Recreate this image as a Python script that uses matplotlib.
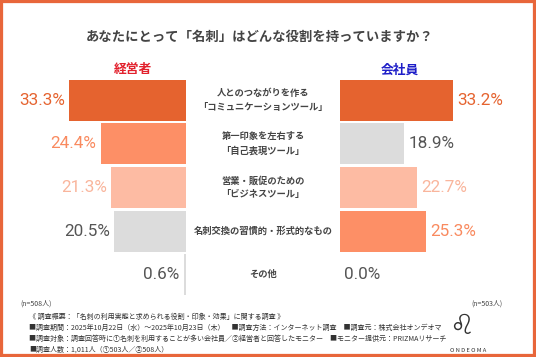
import matplotlib.pyplot as plt
from matplotlib.patches import Rectangle

plt.rcParams['font.family'] = ['Noto Sans CJK JP', 'DejaVu Sans']

categories = ['人とのつながりを作る\n「コミュニケーションツール」',
              '第一印象を左右する\n「自己表現ツール」',
              '営業・販促のための\n「ビジネスツール」',
              '名刺交換の習慣的・形式的なもの',
              'その他']
keieisha = [33.3, 24.4, 21.3, 20.5, 0.6]
kaishain = [33.2, 18.9, 22.7, 25.3, 0.0]
n_keieisha = 508
n_kaishain = 503

DARK = '#E5632F'
MID = '#FD8F66'
LIGHT = '#FDBBA3'
GRAY = '#DCDCDC'
TXT_GRAY = '#555555'
label_col = {DARK: '#E5632F', MID: '#F98A5F', LIGHT: '#F9B59C', GRAY: TXT_GRAY}

left_colors = [DARK, MID, LIGHT, GRAY, GRAY]
right_colors = [DARK, GRAY, LIGHT, MID, GRAY]

W, H = 536, 357
fig = plt.figure(figsize=(W / 100, H / 100), dpi=100)

def px_ax(x0, x1, y0, y1):
    return fig.add_axes([x0 / W, 1 - y1 / H, (x1 - x0) / W, (y1 - y0) / H])

y_top, y_bot = 78.5, 296.5
axl = px_ax(30, 186, y_top, y_bot)
axr = px_ax(340, 500, y_top, y_bot)
y = list(range(len(categories)))
valfont = dict(family=['Roboto', 'DejaVu Sans'], fontsize=12.3)

axl.barh(y, keieisha, height=0.94, color=left_colors, linewidth=0)
axl.set_xlim(156 / 3.5, 0)
for i, v in enumerate(keieisha):
    axl.text(v + 1.3, i, f'{v:.1f}%', ha='right', va='center',
             color=label_col[left_colors[i]], **valfont)

axr.barh(y, kaishain, height=0.94, color=right_colors, linewidth=0)
axr.set_xlim(0, 160 / 3.4)
for i, v in enumerate(kaishain):
    axr.text(v + 1.2, i, f'{v:.1f}%', ha='left', va='center',
             color=label_col[right_colors[i]], **valfont)

for ax in (axl, axr):
    ax.set_ylim(4.5, -0.5)
    ax.axis('off')

# center labels
for i, c in enumerate(categories):
    yy = y_top + (i + 0.5) * (y_bot - y_top) / 5
    fig.text(263 / W, 1 - yy / H, c, ha='center', va='center', fontsize=6.7,
             color='#444444', fontweight='bold', linespacing=1.6)

fig.text(260 / W, 1 - 37 / H, 'あなたにとって「名刺」はどんな役割を持っていますか？',
         ha='center', va='center', fontsize=9.6, fontweight='bold', color='#444444')
fig.text(133 / W, 1 - 70 / H, '経営者', ha='center', va='center', fontsize=9.2,
         fontweight='bold', color='#E2202C')
fig.text(400 / W, 1 - 70 / H, '会社員', ha='center', va='center', fontsize=9.2,
         fontweight='bold', color='#1E1EC8')

fig.text(20 / W, 1 - 304 / H, f'(n={n_keieisha}人)', ha='left', va='center',
         fontsize=5, color='#444444')
fig.text(502 / W, 1 - 304 / H, f'(n={n_kaishain}人)', ha='right', va='center',
         fontsize=5, color='#444444')

notes = ['《 調査概要：「名刺の利用実態と求められる役割・印象・効果」に関する調査 》',
         '■調査期間：2025年10月22日（水）～2025年10月23日（木）　■調査方法：インターネット調査　■調査元：株式会社オンデオマ',
         '■調査対象：調査回答時に①名刺を利用することが多い会社員／②経営者と回答したモニター　■モニター提供元：PRIZMAリサーチ',
         '■調査人数：1,011人（①503人／②508人）']
for k, t in enumerate(notes):
    fig.text(29 / W, 1 - (317 + 11 * k) / H, t, ha='left', va='center',
             fontsize=5.05, color='#333333')

fig.text(468 / W, 1 - 351 / H, 'O N D E O M A', ha='center', va='center',
         fontsize=4.2, color='#333333')
fig.text(462 / W, 1 - 326 / H, '♌', ha='center', va='center',
         fontsize=20, color='#333333', family=['DejaVu Sans'])

fig.patches.append(Rectangle((0, 0), 1, 1, transform=fig.transFigure, fill=False,
                             edgecolor='#E8663A', linewidth=4.5))

fig.savefig('out.png', dpi=100)
